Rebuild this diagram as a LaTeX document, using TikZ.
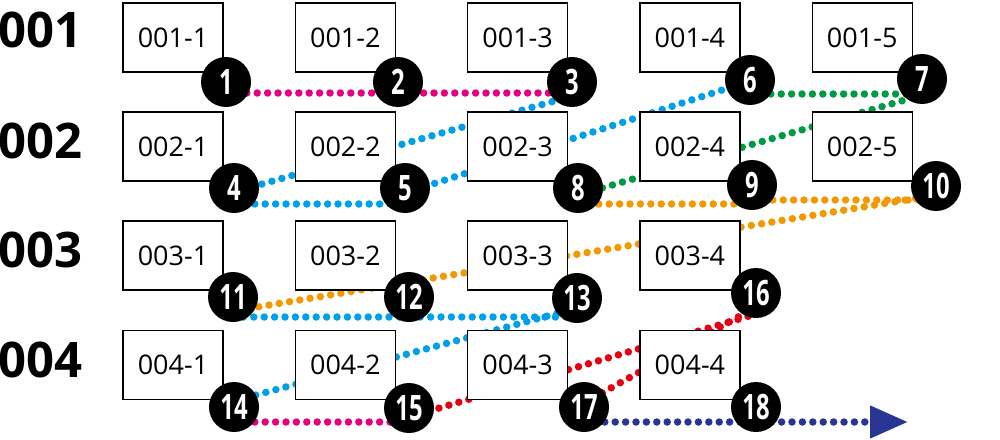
\documentclass[tikz,border=0pt]{standalone}
\usepackage{fontspec}
\setmainfont{Open Sans}
\newfontfamily\numfont[FakeStretch=0.68]{Open Sans}
\usetikzlibrary{calc,backgrounds,arrows.meta}
\definecolor{pinkline}{HTML}{E4007F}
\definecolor{blueline}{HTML}{00A0E9}
\definecolor{greenline}{HTML}{009944}
\definecolor{orangeline}{HTML}{F39800}
\definecolor{redline}{HTML}{E60012}
\definecolor{navyline}{HTML}{283593}
\begin{document}
\begin{tikzpicture}[x=1pt,y=-1pt,
  every node/.style={inner sep=0pt},
  cell/.style={draw, line width=1.3pt, fill=white, minimum width=100pt,
    minimum height=69pt, font=\fontsize{27}{27}\selectfont},
  rowlabel/.style={anchor=west, font=\fontsize{49}{49}\selectfont\bfseries},
  stop/.style={circle, fill=black, minimum size=50pt, text=white,
    font=\numfont\fontsize{35}{35}\selectfont\bfseries},
  dots/.style={line width=7.5pt, line cap=round, dash pattern=on 0pt off 10.4pt}
  ]
  \useasboundingbox (0,0) rectangle (1000,439);
  % rows of boxes
  \foreach \r/\n/\y/\ly in {1/5/37.5/29.5, 2/5/146.5/140.5, 3/4/255.5/250, 4/4/365/360} {
    \node[rowlabel] (row\r) at (-2,\ly) {00\r};
    \foreach \c in {1,...,\n}
      \node[cell] (b\r\c) at ({173+172.3*(\c-1)},\y) {00\r-\c};
  }
  % numbered stops
  \foreach \k/\p in {1/{226,82}, 2/{398,82}, 3/{572,82}, 6/{750,80}, 7/{922,79},
      4/{234,188}, 5/{405,188}, 8/{578,188}, 9/{752,185}, 10/{936,186},
      11/{233,297}, 12/{409,297}, 13/{577,298}, 16/{756,293},
      14/{234,407}, 15/{409,408}, 17/{584,407}, 18/{756,407}}
    \node[stop] (s\k) at (\p) {\k};
  \coordinate (tip) at (908,422);
  % dotted route
  \begin{scope}[on background layer]
    \draw[dots, pinkline] ($(s1)+(0,11)$) -- ($(s3)+(0,11)$);
    \draw[dots, blueline] ($(s3)+(0,14)$) -- ($(s4)+(0,4)$);
    \draw[dots, blueline] ($(s4)+(0,16)$) -- ($(s5)+(0,16)$);
    \draw[dots, blueline] ($(s5)+(0,5)$) -- ($(s6)+(0,1)$);
    \draw[dots, greenline] ($(s6)+(0,14)$) -- ($(s7)+(0,15)$);
    \draw[dots, greenline] ($(s7)+(0,16)$) -- ($(s8)+(0,7)$);
    \draw[dots, orangeline] ($(s8)+(0,16)$) -- ($(s9)+(0,19)$);
    \draw[dots, orangeline] ($(s9)+(0,15)$) -- ($(s10)+(0,14)$);
    \draw[dots, orangeline] ($(s10)+(0,9)$) -- ($(s11)+(0,14)$);
    \draw[dots, blueline] ($(s11)+(0,20)$) -- ($(s13)+(0,19)$);
    \draw[dots, blueline] ($(s13)+(0,10)$) -- ($(s14)+(0,-6)$);
    \draw[dots, pinkline] ($(s14)+(0,15)$) -- ($(s15)+(0,14)$);
    \draw[dots, redline] ($(s15)+(0,9)$) -- ($(s16)+(0,21)$);
    \draw[dots, redline] ($(s17)+(0,-4)$) -- ($(s16)+(0,14)$);
    \draw[dots, navyline, -{Triangle[length=38pt,width=31pt]}] ($(s17)+(0,15)$) -- (tip);
  \end{scope}
\end{tikzpicture}
\end{document}
